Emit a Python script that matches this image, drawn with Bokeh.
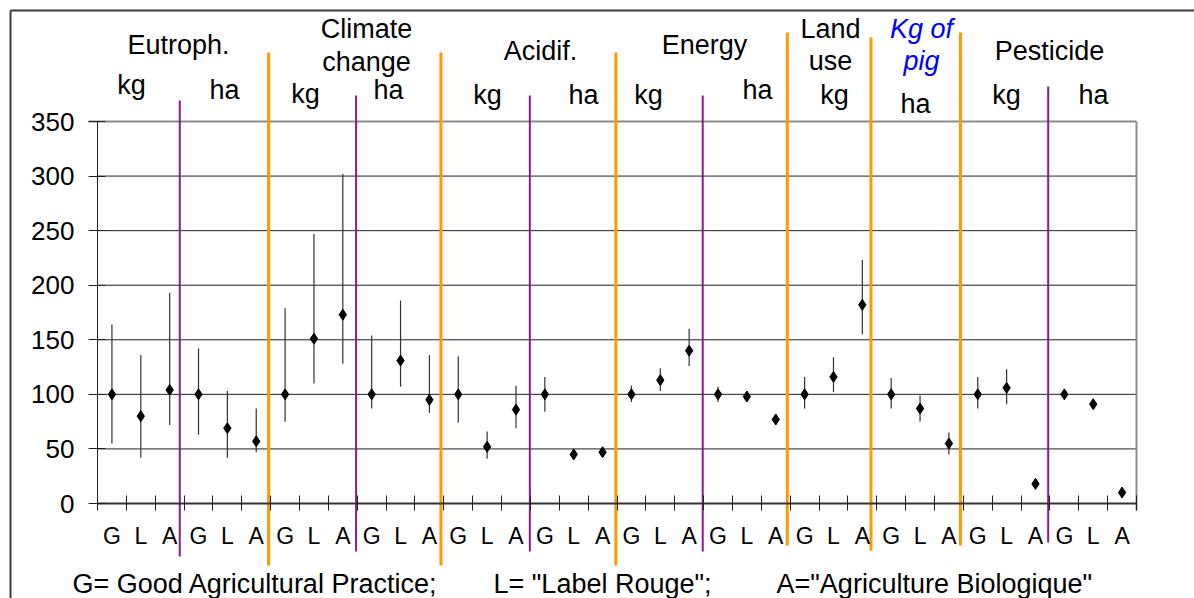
from bokeh.plotting import figure
from bokeh.models import ColumnDataSource, Range1d, FixedTicker
from bokeh.core.properties import value
from bokeh.embed import file_html
from bokeh.resources import INLINE

# ---------------- data ----------------
letters = ["G", "L", "A"] * 12
values = [100, 80, 104, 100, 69, 57,      # Eutroph. kg / ha
          100, 151, 173, 100, 131, 95,    # Climate change kg / ha
          100, 52, 86, 100, 45, 47,       # Acidif. kg / ha
          100, 113, 140, 100, 98, 77,     # Energy kg / ha
          100, 116, 182,                  # Land use kg
          100, 87, 55,                    # Kg of pig ha
          100, 106, 18, 100, 91, 10]      # Pesticide kg / ha
lower = [55, 42, 72, 63, 42, 47,
         75, 110, 128, 87, 107, 83,
         74, 41, 69, 84, 45, 47,
         93, 103, 126, 93, 93, 72,
         87, 102, 155,
         87, 75, 45,
         87, 91, 18, 100, 91, 10]
upper = [164, 136, 193, 142, 103, 87,
         179, 247, 302, 154, 186, 136,
         135, 66, 108, 116, 45, 47,
         108, 124, 160, 107, 101, 82,
         116, 134, 223,
         115, 99, 65,
         116, 123, 18, 100, 91, 10]
y_ticks = [0, 50, 100, 150, 200, 250, 300, 350]
footnotes = ["G= Good Agricultural Practice;", 'L= "Label Rouge";', 'A="Agriculture Biologique"']

# ---------------- geometry (page pixels) ----------------
W, H = 1194, 598
PAGE_OFF = 0
AX_X0, AX_X1 = 97, 1136      # page x of data x=0 and x=36
AX_Y0, AX_Y1 = 503, 121      # page y of data y=0 and y=350
N = len(values)
YMAX = y_ticks[-1]
sx = (AX_X1 - AX_X0) / N
sy = (AX_Y0 - AX_Y1) / YMAX


def X(px):
    return (px - AX_X0) / sx


def Y(py):
    return (AX_Y0 - py) / sy


p = figure(width=W, height=H, output_backend="svg", toolbar_location=None, tools="",
           title=None, min_border=0,
           x_range=Range1d(X(PAGE_OFF), X(PAGE_OFF + W)),
           y_range=Range1d(Y(PAGE_OFF + H), Y(PAGE_OFF)))
p.outline_line_color = None
p.background_fill_color = "white"
p.border_fill_color = "white"
p.xgrid.visible = False
p.ygrid.visible = False

FONT = value("Liberation Sans")

# outer frame (top and left edges)
p.line([X(10), X(10)], [Y(10), Y(PAGE_OFF + H)], line_color="#3c3c3c", line_width=2)
p.line([X(10), X(PAGE_OFF + W)], [Y(10), Y(10)], line_color="#3c3c3c", line_width=2)

# horizontal gridlines
grid_src = ColumnDataSource(dict(y=[t for t in y_ticks[1:-1]]))
p.segment(x0=0, x1=N, y0="y", y1="y", source=grid_src, line_color="#202020", line_width=1)
p.segment(x0=X(88), x1=N, y0=YMAX, y1=YMAX, line_color="#8c8c8c", line_width=2)
p.segment(x0=N, x1=N, y0=Y(510), y1=YMAX, line_color="#8c8c8c", line_width=2)

# separators
orange_x = [5.93, 11.9, 17.96, 23.9, 26.8, 29.9]
orange_top = [52, 52, 52, 32, 37, 32]
orange_bot = [565, 565, 565, 545, 550, 545]
purple_x = [2.85, 8.96, 14.98, 20.97, 32.94]
purple_top = [100, 95, 95, 95, 86]
purple_bot = [556, 551, 551, 551, 542]
p.segment(x0=orange_x, x1=orange_x, y0=[Y(v) for v in orange_top], y1=[Y(v) for v in orange_bot],
          line_color="#FF9900", line_width=3)
p.segment(x0=purple_x, x1=purple_x, y0=[Y(v) for v in purple_top], y1=[Y(v) for v in purple_bot],
          line_color="#8B1A8B", line_width=2)

# data
xs = [i + 0.5 for i in range(N)]
src = ColumnDataSource(dict(x=xs, v=values, lo=lower, hi=upper))
p.segment(x0="x", x1="x", y0="lo", y1="hi", source=src, line_color="#333333", line_width=1.2)
p.scatter(x="x", y="v", source=src, marker="diamond", size=11, color="black")

# axes
xa = p.xaxis[0]
xa.ticker = FixedTicker(ticks=xs, minor_ticks=list(range(N + 1)))
xa.major_label_overrides = {x: l for x, l in zip(xs, letters)}
xa.fixed_location = 0
xa.bounds = (0, N)
xa.major_tick_in = 0
xa.major_tick_out = 0
xa.minor_tick_in = 8
xa.minor_tick_out = 7
xa.minor_tick_line_color = "#202020"
xa.axis_line_color = "#333333"
xa.axis_line_width = 2
xa.major_label_standoff = 12
xa.major_label_text_font = "Liberation Sans"
xa.major_label_text_font_size = "23px"
xa.major_label_text_color = "black"

ya = p.yaxis[0]
ya.ticker = FixedTicker(ticks=y_ticks)
ya.fixed_location = 0
ya.bounds = (0, YMAX)
ya.major_tick_in = 8
ya.major_tick_out = 9
ya.minor_tick_in = 0
ya.minor_tick_out = 0
ya.axis_line_color = "#202020"
ya.axis_line_width = 1
ya.major_tick_line_color = "#202020"
ya.major_label_standoff = 14
ya.major_label_text_font = "Liberation Sans"
ya.major_label_text_font_size = "26px"
ya.major_label_text_color = "black"

# header labels (page px: text, center x, middle y)
headers = [("Eutroph.", 178, 44), ("kg", 131, 84), ("ha", 224, 89),
           ("Climate", 366, 28), ("change", 366, 61), ("kg", 305, 93), ("ha", 388, 89),
           ("Acidif.", 540, 50), ("kg", 487, 94), ("ha", 583, 94),
           ("Energy", 704, 44), ("kg", 648, 94), ("ha", 757, 89),
           ("Land", 830, 28), ("use", 830, 60), ("kg", 834, 94),
           ("ha", 915, 103),
           ("Pesticide", 1049, 50), ("kg", 1006, 94), ("ha", 1093, 94)]
hsrc = ColumnDataSource(dict(x=[X(h[1]) for h in headers], y=[Y(h[2]) for h in headers],
                             t=[h[0] for h in headers]))
p.text(x="x", y="y", text="t", source=hsrc, text_font=FONT, text_font_size=value("27px"),
       text_align="center", text_baseline="middle", text_color="black")
pig = [("Kg of", 921, 28), ("pig", 921, 60)]
psrc = ColumnDataSource(dict(x=[X(h[1]) for h in pig], y=[Y(h[2]) for h in pig],
                             t=[h[0] for h in pig]))
p.text(x="x", y="y", text="t", source=psrc, text_font=FONT, text_font_size=value("27px"),
       text_font_style="italic", text_align="center", text_baseline="middle",
       text_color="#0000FF")

# footnote
fx = [72, 493, 776]
fsrc = ColumnDataSource(dict(x=[X(v) for v in fx], y=[Y(583)] * 3, t=footnotes))
p.text(x="x", y="y", text="t", source=fsrc, text_font=FONT, text_font_size=value("27px"),
       text_align="left", text_baseline="middle", text_color="black")

open("out.html", "w").write(file_html(p, INLINE))
